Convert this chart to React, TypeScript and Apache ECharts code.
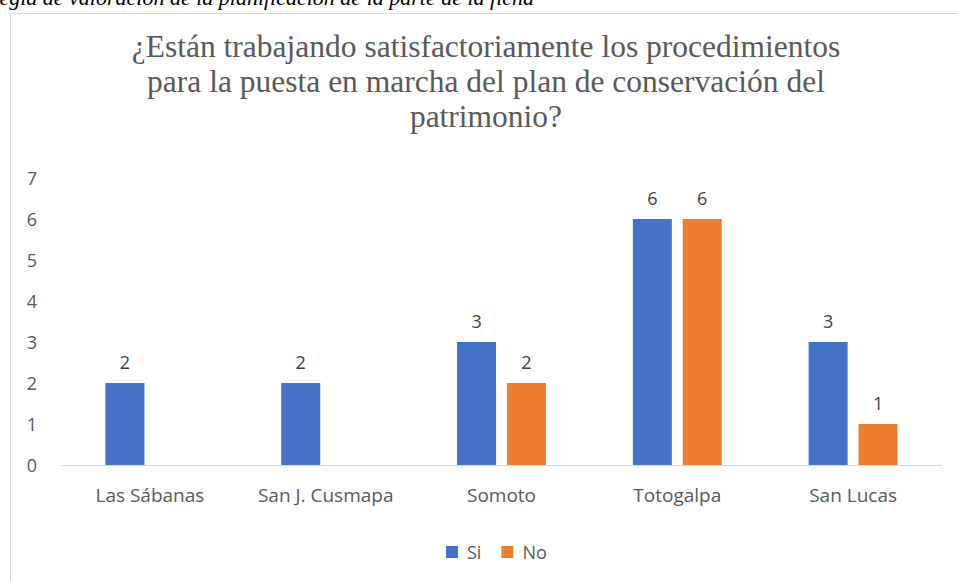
import React, { useEffect, useRef } from "react";
import * as echarts from "echarts";

const categories = ["Las Sábanas", "San J. Cusmapa", "Somoto", "Totogalpa", "San Lucas"];
const siValues = [2, 2, 3, 6, 3];
const noValues = [0, 0, 2, 6, 1];
const seriesNames = ["Si", "No"];
const titleText =
  "¿Están trabajando satisfactoriamente los procedimientos\npara la puesta en marcha del plan de conservación del\npatrimonio?";
const captionText = "Regla de valoración de la planificación de la parte de la ficha";

export default function App() {
  const ref = useRef<HTMLDivElement>(null);
  useEffect(() => {
    if (!ref.current) return;
    const chart = echarts.init(ref.current, undefined, { renderer: "svg" });
    const labelStyle = {
      show: true,
      position: "top" as const,
      distance: 12,
      color: "#404040",
      fontSize: 18,
      fontFamily: "Open Sans",
      formatter: (p: any) => (p.value ? String(p.value) : ""),
    };
    chart.setOption({
      animation: false,
      backgroundColor: "#ffffff",
      graphic: [
        {
          type: "rect",
          shape: { x: 10.5, y: 13.5, width: 960, height: 600 },
          style: { fill: "none", stroke: "#d9d9d9", lineWidth: 1 },
          silent: true,
        },
        {
          type: "text",
          x: -14,
          y: 8,
          style: {
            text: captionText,
            font: "italic 22px 'Liberation Serif'",
            fill: "#000000",
            textVerticalAlign: "bottom",
          },
          silent: true,
        },
      ],
      title: {
        text: titleText,
        left: 481,
        top: 24,
        textAlign: "center",
        textStyle: {
          fontFamily: "Liberation Serif",
          fontSize: 31.5,
          fontWeight: "normal",
          color: "#595959",
          lineHeight: 35,
        },
      },
      legend: {
        data: seriesNames,
        left: 441,
        top: 538,
        itemWidth: 12,
        itemHeight: 12,
        itemGap: 20,
        icon: "rect",
        textStyle: {
          fontFamily: "Open Sans",
          fontSize: 18,
          color: "#595959",
          padding: [0, 0, 0, 4],
        },
      },
      grid: { left: 62, right: 16, top: 178, bottom: 116 },
      xAxis: {
        type: "category",
        data: categories,
        axisLine: { lineStyle: { color: "#d9d9d9", width: 1 } },
        axisTick: { show: false },
        axisLabel: {
          interval: 0,
          hideOverlap: false,
          margin: 20,
          fontFamily: "Open Sans",
          fontSize: 19,
          color: "#595959",
        },
      },
      yAxis: {
        type: "value",
        min: 0,
        max: 7,
        interval: 1,
        splitLine: { show: false },
        axisLine: { show: false },
        axisTick: { show: false },
        axisLabel: {
          margin: 25,
          fontFamily: "Open Sans",
          fontSize: 18,
          color: "#595959",
        },
      },
      series: [
        {
          name: seriesNames[0],
          type: "bar",
          data: siValues,
          barWidth: 39,
          barGap: "28%",
          itemStyle: { color: "#4472C4" },
          label: labelStyle,
        },
        {
          name: seriesNames[1],
          type: "bar",
          data: noValues,
          barWidth: 39,
          barGap: "28%",
          itemStyle: { color: "#ED7D31" },
          label: labelStyle,
        },
      ],
    });
    return () => chart.dispose();
  }, []);
  return (
    <div
      ref={ref}
      style={{ position: "absolute", left: 0, top: 0, width: 957, height: 581 }}
    />
  );
}
